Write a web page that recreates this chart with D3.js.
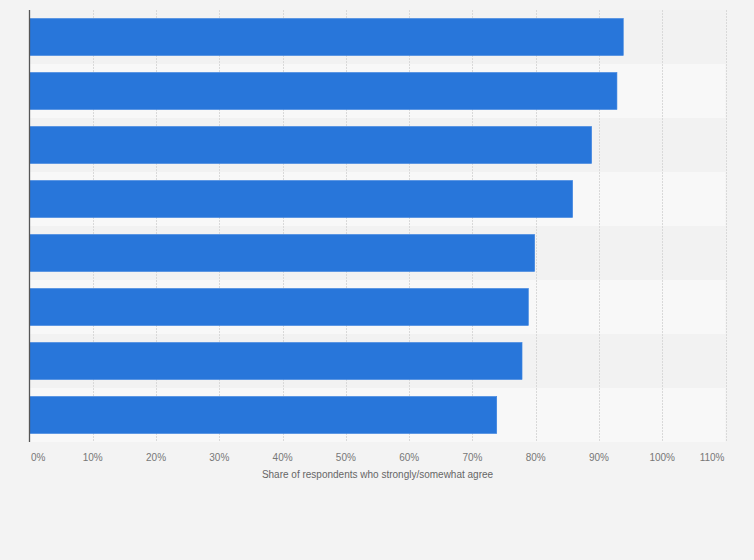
<!DOCTYPE html>
<html><head><meta charset="utf-8">
<script src="https://cdn.jsdelivr.net/npm/d3@7"></script>
<style>
html,body{margin:0;padding:0;background:#f3f3f3;}
svg{display:block;font-family:"Liberation Sans",Arial,sans-serif;}
</style></head>
<body>
<svg id="chart" width="754" height="560"></svg>
<script>
const categories = ["Item 1","Item 2","Item 3","Item 4","Item 5","Item 6","Item 7","Item 8"];
const values = [94, 93, 89, 86, 80, 79, 78, 74];
const tickValues = [0,10,20,30,40,50,60,70,80,90,100,110];
const tickLabels = ["0%","10%","20%","30%","40%","50%","60%","70%","80%","90%","100%","110%"];
const axisTitle = "Share of respondents who strongly/somewhat agree";

const svg = d3.select("#chart");
const W = 754, H = 560;
const m = {left: 29.5, right: 754 - 725.5, top: 10, bottom: 560 - 442};
svg.append("rect").attr("width", W).attr("height", H).attr("fill", "#f3f3f3");

const x = d3.scaleLinear().domain([0, 110]).range([m.left, W - m.right]);
const y = d3.scaleBand().domain(categories).range([m.top, H - m.bottom]).paddingInner(0.315).paddingOuter(0.1575);
const band = d3.scaleBand().domain(categories).range([m.top, H - m.bottom]);

// alternating bands
svg.append("g").selectAll("rect").data(categories).join("rect")
  .attr("x", x(0)).attr("width", x(110) - x(0))
  .attr("y", d => band(d)).attr("height", band.bandwidth())
  .attr("fill", (d, i) => i % 2 === 0 ? "#f2f2f2" : "#f8f8f8");

// gridlines
svg.append("g").selectAll("line").data(tickValues.slice(1)).join("line")
  .attr("x1", d => Math.round(x(d)) + 0.5).attr("x2", d => Math.round(x(d)) + 0.5)
  .attr("y1", m.top).attr("y2", H - m.bottom)
  .attr("stroke", "#d9d9d9").attr("stroke-width", 1).attr("stroke-dasharray", "2,1");

// bars
svg.append("g").selectAll("rect").data(values).join("rect")
  .attr("x", x(0)).attr("y", (d, i) => y(categories[i]))
  .attr("width", d => x(d) - x(0) - 1).attr("height", y.bandwidth())
  .attr("fill", "#2876da").attr("stroke", "#3c84e0").attr("stroke-width", 0.6);

// left axis line
svg.append("line").attr("x1", x(0)).attr("x2", x(0))
  .attr("y1", m.top).attr("y2", H - m.bottom)
  .attr("stroke", "#555").attr("stroke-width", 1.3);

// tick labels
svg.append("g").selectAll("text").data(tickValues).join("text")
  .attr("x", (d, i) => i === 0 ? x(d) + 1.5 : (i === tickValues.length - 1 ? x(d) - 1 : x(d)))
  .attr("y", 461)
  .attr("text-anchor", (d, i) => i === 0 ? "start" : (i === tickValues.length - 1 ? "end" : "middle"))
  .attr("font-size", 10).attr("fill", "#777")
  .text((d, i) => tickLabels[i]);

svg.append("text").attr("x", (x(0) + x(110)) / 2).attr("y", 478)
  .attr("text-anchor", "middle").attr("font-size", 10).attr("fill", "#666")
  .text(axisTitle);
</script>
</body></html>
